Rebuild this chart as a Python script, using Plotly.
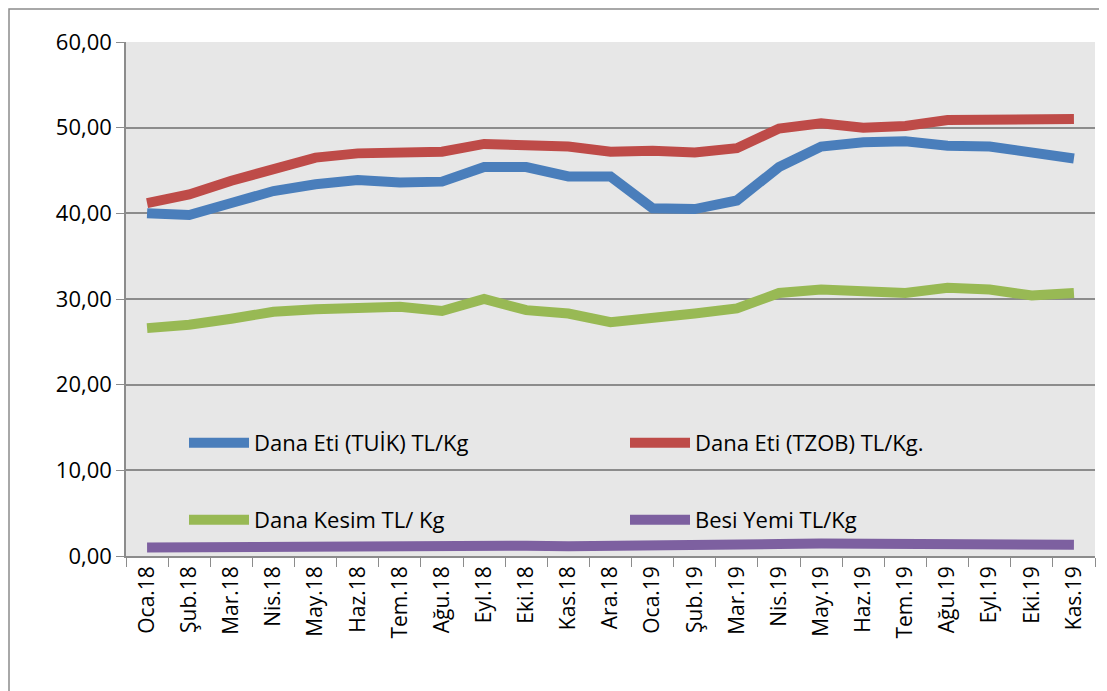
import plotly.graph_objects as go

months = ["Oca.18", "Şub.18", "Mar.18", "Nis.18", "May.18", "Haz.18", "Tem.18", "Ağu.18",
          "Eyl.18", "Eki.18", "Kas.18", "Ara.18", "Oca.19", "Şub.19", "Mar.19", "Nis.19",
          "May.19", "Haz.19", "Tem.19", "Ağu.19", "Eyl.19", "Eki.19", "Kas.19"]

tuik = [40.0, 39.8, 41.2, 42.6, 43.4, 43.9, 43.6, 43.7, 45.4, 45.4, 44.3, 44.3,
        40.6, 40.5, 41.5, 45.4, 47.8, 48.3, 48.4, 47.9, 47.8, 47.0, 46.4]
tzob = [41.2, 42.2, 43.8, 45.2, 46.5, 47.0, 47.2, 47.2, 48.1, 47.9, 47.8, 47.2,
        47.3, 47.1, 47.6, 49.9, 50.5, 50.0, 50.2, 50.9, 50.9, 50.9, 51.0]
kesim = [26.6, 27.0, 27.7, 28.5, 28.8, 29.0, 29.1, 28.6, 30.0, 28.7, 28.3, 27.3,
         27.7, 28.3, 28.9, 30.7, 31.1, 31.0, 30.7, 31.3, 31.1, 30.4, 30.7]
yem = [1.0, 1.05, 1.05, 1.1, 1.15, 1.1, 1.05, 1.2, 1.3, 1.2, 1.15, 1.25,
       1.3, 1.3, 1.3, 1.4, 1.45, 1.4, 1.4, 1.4, 1.35, 1.3, 1.3]

names = ["Dana Eti (TUİK) TL/Kg", "Dana Eti (TZOB) TL/Kg.", "Dana Kesim TL/ Kg", "Besi Yemi TL/Kg"]
colors = ["#4A7EBB", "#BE4B48", "#98B954", "#7D60A0"]
series = [tuik, tzob, kesim, yem]
legends = ["legend", "legend2", "legend3", "legend4"]

FONT = "Open Sans"
fig = go.Figure()
for nm, col, vals, lg in zip(names, colors, series, legends):
    fig.add_trace(go.Scatter(x=months, y=vals, name=nm, mode="lines",
                             line=dict(color=col, width=10), legend=lg))

# page body has an 8px margin; figure is drawn from (8, 8)
OFF = 8
W, H = 1107 - OFF, 691 - OFF
PL, PR, PT, PB = 126, 1095, 42, 556  # plot area in reference pixels
L, R, T, B = PL - OFF, 1107 - PR, PT - OFF, 691 - PB
pw, ph = PR - PL, PB - PT

def px(x):
    return (x - PL) / pw

def py(y):
    return (PB - y) / ph

leg_common = dict(bgcolor="rgba(0,0,0,0)", font=dict(family=FONT, size=22, color="#000000"),
                  itemwidth=60, yanchor="middle", xanchor="left")
legpos = [(184, 443), (625, 443), (184, 520), (625, 520)]
layout_legends = {}
for lg, (lx, ly) in zip(legends, legpos):
    layout_legends[lg] = dict(x=px(lx), y=py(ly), **leg_common)

fig.update_layout(
    width=W, height=H,
    margin=dict(l=L, r=R, t=T, b=B),
    paper_bgcolor="#FFFFFF",
    plot_bgcolor="#E7E7E7",
    separators=",.",
    showlegend=True,
    font=dict(family=FONT, size=22, color="#000000"),
    xaxis=dict(type="category", tickson="boundaries", ticks="outside", ticklen=9,
               tickcolor="#8C8C8C", showgrid=False, showline=True, linecolor="#8C8C8C",
               linewidth=1.5, tickangle=-90, tickfont=dict(family=FONT, size=21),
               range=[-0.5, len(months) - 0.5]),
    yaxis=dict(range=[0, 60], dtick=10, tickformat=".2f", ticks="outside", ticklen=8,
               tickcolor="#8C8C8C", showgrid=True, gridcolor="#8C8C8C", gridwidth=1.5,
               showline=True, linecolor="#8C8C8C", linewidth=1.5,
               tickfont=dict(family=FONT, size=22), zeroline=False),
    shapes=[dict(type="rect", xref="paper", yref="paper",
                 x0=px(9), x1=px(1112), y0=py(696), y1=py(9),
                 line=dict(color="#8C8C8C", width=1.5), fillcolor="rgba(0,0,0,0)",
                 layer="below")],
    **layout_legends,
)

fig.write_html("out.html")
